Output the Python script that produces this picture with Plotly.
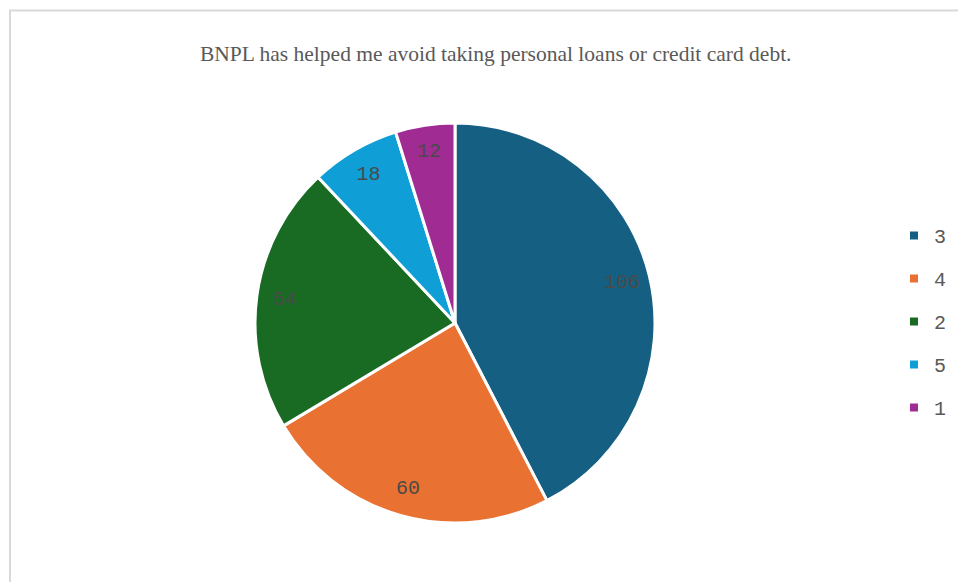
import plotly.graph_objects as go

labels = ["3", "4", "2", "5", "1"]
values = [106, 60, 54, 18, 12]
colors = ["#156082", "#E97132", "#196B24", "#0F9ED5", "#A02B93"]
title = "BNPL has helped me avoid taking personal loans or credit card debt."

W, H = 958, 582
cx, cy, r = 455, 323, 200
dom = dict(x=[(cx - r) / W, (cx + r) / W], y=[1 - (cy + r) / H, 1 - (cy - r) / H])

fig = go.Figure()
fig.add_trace(go.Pie(
    labels=labels, values=values, sort=False, direction="clockwise", rotation=0,
    marker=dict(colors=colors, line=dict(color="white", width=3)),
    textinfo="none", showlegend=False, domain=dom, hoverinfo="label+value",
))
# transparent ring to place value labels near the outer edge
fig.add_trace(go.Pie(
    labels=labels, values=values, sort=False, direction="clockwise", rotation=0,
    hole=0.72,
    marker=dict(colors=["rgba(0,0,0,0)"] * len(values), line=dict(width=0)),
    textinfo="value", textposition="inside", insidetextorientation="horizontal",
    textfont=dict(family="Liberation Mono", size=20, color="#4a4a4a"),
    showlegend=False, domain=dom, hoverinfo="skip",
))
for i, (lab, col) in enumerate(zip(labels, colors)):
    fig.add_trace(go.Scatter(
        x=[None], y=[None], mode="markers", name=lab, legendgroup=lab,
        marker=dict(symbol="square", size=8, color=col),
    ))

fig.update_layout(
    width=W, height=H,
    margin=dict(l=0, r=0, t=0, b=0),
    paper_bgcolor="white", plot_bgcolor="white",
    xaxis=dict(visible=False), yaxis=dict(visible=False),
    legend=dict(
        x=894 / W, y=1 - 216 / H, xanchor="left", yanchor="top",
        traceorder="grouped", tracegroupgap=14,
        font=dict(family="Liberation Mono", size=20, color="#595959"),
        itemwidth=30,
    ),
    annotations=[dict(
        text=title, x=495 / W, y=1 - 54 / H, xref="paper", yref="paper",
        showarrow=False, xanchor="center", yanchor="middle",
        font=dict(family="Liberation Serif", size=21.5, color="#595959"),
    )],
    shapes=[dict(
        type="rect", xref="paper", yref="paper",
        x0=10 / W, x1=1.05, y0=-0.05, y1=1 - 10.5 / H,
        line=dict(color="#d9d9d9", width=2), layer="below",
    )],
)
fig.write_html("out.html", config={"displayModeBar": False},
               post_script="document.body.style.margin='0';")
